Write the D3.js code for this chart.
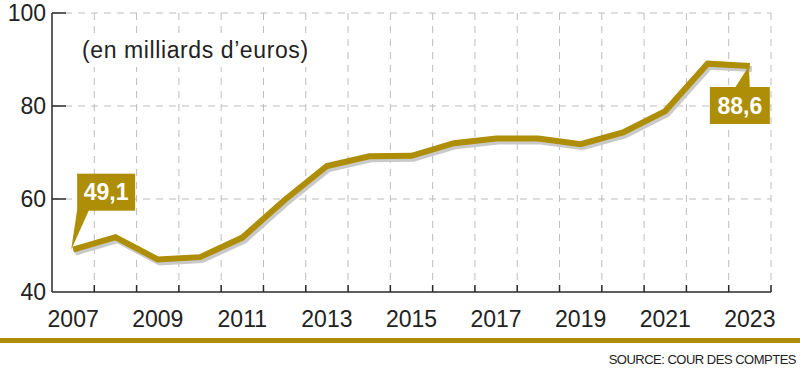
<!DOCTYPE html>
<html><head><meta charset="utf-8">
<script src="https://cdn.jsdelivr.net/npm/d3@7/dist/d3.min.js"></script>
<style>html,body{margin:0;padding:0;background:#fff;}svg{display:block;}</style>
</head><body>
<svg id="c" width="800" height="370"></svg>
<script>
const years = [2007,2008,2009,2010,2011,2012,2013,2014,2015,2016,2017,2018,2019,2020,2021,2022,2023];
const values = [49.1,51.8,47.0,47.5,51.7,59.8,67.1,69.2,69.3,72.0,73.0,73.0,71.8,74.3,78.9,89.1,88.6];
const yTicks = [40,60,80,100];
const xTickLabels = [2007,2009,2011,2013,2015,2017,2019,2021,2023];
const subtitle = "(en milliards d\u2019euros)";
const source = "SOURCE: COUR DES COMPTES";
const calloutFirst = "49,1";
const calloutLast = "88,6";

const gold = "#ae8e06";
const svg = d3.select("#c");
const L = 52, R = 771, T = 13, B = 292;
const x = d3.scaleBand().domain(years).range([L, R]).paddingInner(0).paddingOuter(0);
const y = d3.scaleLinear().domain([40, 100]).range([B, T]);
const cx = d => x(d) + x.bandwidth() / 2;

// grid
const bounds = years.map(d => x(d) + x.bandwidth());
svg.append("g").selectAll("line").data(bounds).join("line")
  .attr("x1", d => d).attr("x2", d => d).attr("y1", T).attr("y2", B)
  .attr("stroke", "#bdbdbd").attr("stroke-width", 1).attr("stroke-dasharray", "7,6");
svg.append("g").selectAll("line").data(yTicks.filter(v => v > 40)).join("line")
  .attr("x1", L).attr("x2", R).attr("y1", d => y(d)).attr("y2", d => y(d))
  .attr("stroke", "#bdbdbd").attr("stroke-width", 1).attr("stroke-dasharray", "7,6");

// subtitle with white backing
const sub = svg.append("text").attr("x", 82).attr("y", 58)
  .attr("font-family", "Liberation Sans, Arial, sans-serif").attr("font-size", 23)
  .attr("letter-spacing", "0.6").attr("fill", "#222").text(subtitle);
const bb = sub.node().getBBox();
svg.insert("rect", "text").attr("x", bb.x - 2).attr("y", bb.y - 4).attr("width", bb.width + 2).attr("height", bb.height + 8).attr("fill", "#fff");

// axes
const axisColor = "#2a2a2a";
svg.append("line").attr("x1", L).attr("x2", L).attr("y1", T).attr("y2", B).attr("stroke", axisColor).attr("stroke-width", 1.5);
svg.append("line").attr("x1", L).attr("x2", R).attr("y1", B).attr("y2", B).attr("stroke", axisColor).attr("stroke-width", 1.5);
svg.append("g").selectAll("line").data(yTicks.filter(v => v > 40)).join("line")
  .attr("x1", L).attr("x2", L + 14).attr("y1", d => y(d)).attr("y2", d => y(d))
  .attr("stroke", axisColor).attr("stroke-width", 1.5);
svg.append("g").selectAll("line").data(bounds).join("line")
  .attr("x1", d => d).attr("x2", d => d).attr("y1", B).attr("y2", B - 7)
  .attr("stroke", axisColor).attr("stroke-width", 1.5);
svg.append("g").selectAll("text").data(yTicks).join("text")
  .attr("x", 46).attr("y", d => y(d)).attr("dy", "0.36em").attr("text-anchor", "end")
  .attr("font-family", "Liberation Sans, Arial, sans-serif").attr("font-size", 23).attr("fill", "#222")
  .text(d => d);
svg.append("g").selectAll("text").data(xTickLabels).join("text")
  .attr("x", d => cx(d)).attr("y", 327).attr("text-anchor", "middle")
  .attr("font-family", "Liberation Sans, Arial, sans-serif").attr("font-size", 23).attr("fill", "#222")
  .text(d => d);

// line
const line = d3.line().x((d, i) => cx(years[i])).y(d => y(d)).curve(d3.curveLinear);
svg.append("path").datum(values).attr("d", line).attr("transform", "translate(2,3)")
  .attr("fill", "none").attr("stroke", "#c9c9c9").attr("stroke-width", 6).attr("stroke-linejoin", "miter");
svg.append("path").datum(values).attr("d", line)
  .attr("fill", "none").attr("stroke", gold).attr("stroke-width", 6).attr("stroke-linejoin", "miter");

// callouts
function callout(px, py, bx, by, w, h, tri, label) {
  const g = svg.append("g");
  g.append("path").attr("d", `M${tri[0][0]},${tri[0][1]}L${tri[1][0]},${tri[1][1]}L${px},${py}Z`).attr("fill", gold);
  g.append("rect").attr("x", bx).attr("y", by).attr("width", w).attr("height", h).attr("fill", gold);
  g.append("text").attr("x", bx + w / 2).attr("y", by + h / 2).attr("dy", "0.36em").attr("text-anchor", "middle")
    .attr("font-family", "Liberation Sans, Arial, sans-serif").attr("font-weight", "bold").attr("font-size", 23)
    .attr("fill", "#fff").text(label);
}
{
  const px = cx(years[0]) - 2, py = y(values[0]);
  callout(px, py, px + 6, py - 76, 58, 37, [[px + 6, py - 40], [px + 18, py - 40]], calloutFirst);
}
{
  const n = values.length - 1;
  const px = cx(years[n]) - 1, py = y(values[n]);
  callout(px, py, px - 39, py + 21, 60, 37, [[px - 14, py + 22], [px + 1, py + 22]], calloutLast);
}

// bottom rule and source
svg.append("rect").attr("x", 0).attr("y", 338).attr("width", 800).attr("height", 5).attr("fill", gold);
svg.append("text").attr("x", 796).attr("y", 364).attr("text-anchor", "end")
  .attr("font-family", "Liberation Sans, Arial, sans-serif").attr("font-size", 13)
  .attr("letter-spacing", "-0.5")
  .attr("fill", "#222").text(source);
</script>
</body></html>
